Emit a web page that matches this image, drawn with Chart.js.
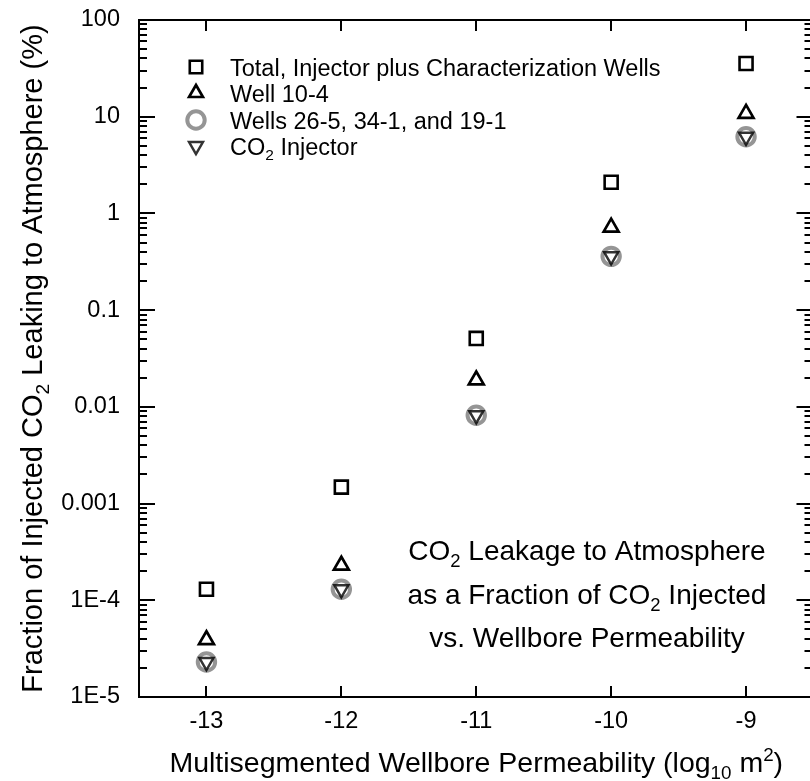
<!DOCTYPE html>
<html>
  <head>
    <title>CO2 Leakage vs Wellbore Permeability</title>
    <style>
      html, body { margin: 0; padding: 0; background: #fff; overflow: hidden; }
      #chart { display: block; }
    </style>
    <script src="https://cdn.jsdelivr.net/npm/chart.js"></script>
  </head>
  <body>
    <canvas id="chart" width="830" height="781"></canvas>

    <script>
      // permeability, log10 m^2
      var permeability = [-13, -12, -11, -10, -9];
      // leakage to atmosphere, % of injected CO2
      var totalWells = [1.3e-4, 1.48e-3, 0.051, 2.1, 35.5];
      var well10_4 = [3.9e-5, 2.3e-4, 0.0189, 0.72, 10.8];
      var wells26_34_19 = [2.3e-5, 1.3e-4, 0.0082, 0.36, 6.2];
      var co2Injector = [2.3e-5, 1.3e-4, 0.0082, 0.36, 6.2];

      var seriesLabels = [
        "Total, Injector plus Characterization Wells",
        "Well 10-4",
        "Wells 26-5, 34-1, and 19-1",
        "CO_{2} Injector",
      ];
      var xTickValues = [-13, -12, -11, -10, -9];
      var yTickValues = [1e-5, 1e-4, 0.001, 0.01, 0.1, 1, 10, 100];
      var yTickLabels = ["1E-5", "1E-4", "0.001", "0.01", "0.1", "1", "10", "100"];

      var xTitle = "Multisegmented Wellbore Permeability (log_{10} m^{2})";
      var yTitle = "Fraction of Injected CO_{2} Leaking to Atmosphere (%)";
      var noteLines = [
        "CO_{2} Leakage to Atmosphere",
        "as a Fraction of CO_{2} Injected",
        "vs. Wellbore Permeability",
      ];

      var FONT = '"Liberation Sans", Arial, sans-serif';

      function points(ys) {
        return permeability.map(function (x, i) {
          return { x: x, y: ys[i] };
        });
      }

      // text with _{sub} and ^{sup} pieces
      function drawRich(ctx, text, x, y, size, align) {
        var parts = [];
        var re = /([_^])\{([^}]*)\}/g;
        var last = 0, m;
        while ((m = re.exec(text))) {
          if (m.index > last) parts.push({ t: text.slice(last, m.index), k: "" });
          parts.push({ t: m[2], k: m[1] });
          last = re.lastIndex;
        }
        if (last < text.length) parts.push({ t: text.slice(last), k: "" });
        var w = 0;
        parts.forEach(function (p) {
          p.size = p.k ? size * 0.66 : size;
          ctx.font = p.size + "px " + FONT;
          p.w = ctx.measureText(p.t).width;
          w += p.w;
        });
        var cx = align === "center" ? x - w / 2 : align === "right" ? x - w : x;
        ctx.textAlign = "left";
        ctx.textBaseline = "alphabetic";
        ctx.fillStyle = "#000";
        parts.forEach(function (p) {
          var dy = p.k === "_" ? size * 0.24 : p.k === "^" ? -size * 0.4 : 0;
          ctx.font = p.size + "px " + FONT;
          ctx.fillText(p.t, cx, y + dy);
          cx += p.w;
        });
      }

      function isDecade(v) {
        var l = Math.log10(v);
        return Math.abs(l - Math.round(l)) < 1e-6;
      }

      // box on all four sides, ticks pointing inward
      var frameTicks = {
        id: "frameTicks",
        afterDraw: function (chart) {
          var ctx = chart.ctx;
          var a = chart.chartArea;
          var xs = chart.scales.x, ys = chart.scales.y;
          ctx.save();
          ctx.strokeStyle = "#000";
          ctx.lineWidth = 2;
          ctx.beginPath();
          ctx.moveTo(a.left, a.top);
          ctx.lineTo(a.right, a.top);
          ctx.lineTo(a.right, a.bottom);
          ctx.stroke();
          ys.ticks.forEach(function (t) {
            var py = Math.round(ys.getPixelForValue(t.value));
            var len = isDecade(t.value) ? 16 : 8;
            ctx.beginPath();
            ctx.moveTo(a.left, py);
            ctx.lineTo(a.left + len, py);
            ctx.moveTo(a.right, py);
            ctx.lineTo(a.right - len - 1, py);
            ctx.stroke();
          });
          xs.ticks.forEach(function (t) {
            var px = Math.round(xs.getPixelForValue(t.value));
            ctx.beginPath();
            ctx.moveTo(px, a.bottom);
            ctx.lineTo(px, a.bottom - 11);
            ctx.moveTo(px, a.top);
            ctx.lineTo(px, a.top + 11);
            ctx.stroke();
          });
          ctx.restore();
        },
      };

      // legend, note and axis titles
      var texts = {
        id: "texts",
        afterDraw: function (chart) {
          var ctx = chart.ctx;
          ctx.save();
          var rowY = [67, 93, 120, 146];
          chart.data.datasets.forEach(function (ds, i) {
            ctx.save();
            ctx.strokeStyle = ds.borderColor;
            ctx.fillStyle = "rgba(0,0,0,0)";
            ctx.lineWidth = ds.borderWidth;
            Chart.helpers.drawPoint(
              ctx,
              {
                pointStyle: ds.pointStyle,
                rotation: ds.pointRotation || 0,
                radius: ds.legendRadius,
                borderWidth: ds.borderWidth,
              },
              196,
              rowY[i]
            );
            ctx.restore();
            drawRich(ctx, ds.label, 230, rowY[i] + 8.5, 23.5, "left");
          });
          var noteY = [560, 604, 647];
          noteLines.forEach(function (line, i) {
            drawRich(ctx, line, 587, noteY[i], 28, "center");
          });
          var a = chart.chartArea;
          drawRich(ctx, xTitle, (a.left + a.right) / 2, 772, 28.5, "center");
          ctx.translate(42, (a.top + a.bottom) / 2);
          ctx.rotate(-Math.PI / 2);
          drawRich(ctx, yTitle, 0, 0, 29, "center");
          ctx.restore();
        },
      };

      var ctx = document.getElementById("chart").getContext("2d");
      var chart = new Chart(ctx, {
        type: "scatter",
        data: {
          datasets: [
            {
              label: seriesLabels[0],
              data: points(totalWells),
              pointStyle: "rect",
              pointRadius: 9.2,
              legendRadius: 8.8,
              borderColor: "#000",
              backgroundColor: "rgba(0,0,0,0)",
              borderWidth: 2.6,
              order: 0,
            },
            {
              label: seriesLabels[1],
              data: points(well10_4),
              pointStyle: "triangle",
              pointRadius: 8.6,
              legendRadius: 8,
              borderColor: "#000",
              backgroundColor: "rgba(0,0,0,0)",
              borderWidth: 2.7,
              order: 0,
            },
            {
              label: seriesLabels[2],
              data: points(wells26_34_19),
              pointStyle: "circle",
              pointRadius: 8.7,
              legendRadius: 8.7,
              borderColor: "#959595",
              backgroundColor: "rgba(0,0,0,0)",
              borderWidth: 4,
              order: 2,
            },
            {
              label: seriesLabels[3],
              data: points(co2Injector),
              pointStyle: "triangle",
              pointRotation: 180,
              pointRadius: 8,
              legendRadius: 8,
              borderColor: "rgba(0,0,0,0.8)",
              backgroundColor: "rgba(0,0,0,0)",
              borderWidth: 2.5,
              order: 1,
            },
          ],
        },
        options: {
          responsive: false,
          animation: false,
          devicePixelRatio: 1,
          layout: { padding: { top: 20, right: 16.5, left: 0, bottom: 0 } },
          plugins: {
            legend: { display: false },
            tooltip: { enabled: false },
          },
          scales: {
            x: {
              type: "linear",
              min: -13.5,
              max: -8.5,
              afterBuildTicks: function (scale) {
                scale.ticks = xTickValues.map(function (v) {
                  return { value: v };
                });
              },
              afterFit: function (scale) {
                scale.height = 84;
                scale.paddingLeft = 0;
                scale.paddingRight = 0;
              },
              grid: { display: false, drawTicks: false },
              border: { display: true, color: "#000", width: 2 },
              ticks: {
                padding: 10,
                color: "#000",
                font: { family: FONT, size: 23.5 },
              },
            },
            y: {
              type: "logarithmic",
              min: 1e-5,
              max: 100,
              afterBuildTicks: function (scale) {
                var t = [];
                for (var k = -5; k < 2; k++) {
                  for (var s = 1; s < 10; s++) {
                    t.push({ value: s * Math.pow(10, k), major: s === 1 });
                  }
                }
                t.push({ value: 100, major: true });
                scale.ticks = t;
              },
              afterFit: function (scale) {
                scale.width = 139;
                scale.paddingTop = 0;
                scale.paddingBottom = 0;
              },
              grid: { display: false, drawTicks: false },
              border: { display: true, color: "#000", width: 2 },
              ticks: {
                autoSkip: false,
                padding: 19,
                color: "#000",
                font: { family: FONT, size: 23.5 },
                callback: function (value) {
                  for (var i = 0; i < yTickValues.length; i++) {
                    if (Math.abs(Math.log10(value) - Math.log10(yTickValues[i])) < 1e-6) {
                      return yTickLabels[i];
                    }
                  }
                  return "";
                },
              },
            },
          },
        },
        plugins: [frameTicks, texts],
      });
    </script>
  </body>
</html>
